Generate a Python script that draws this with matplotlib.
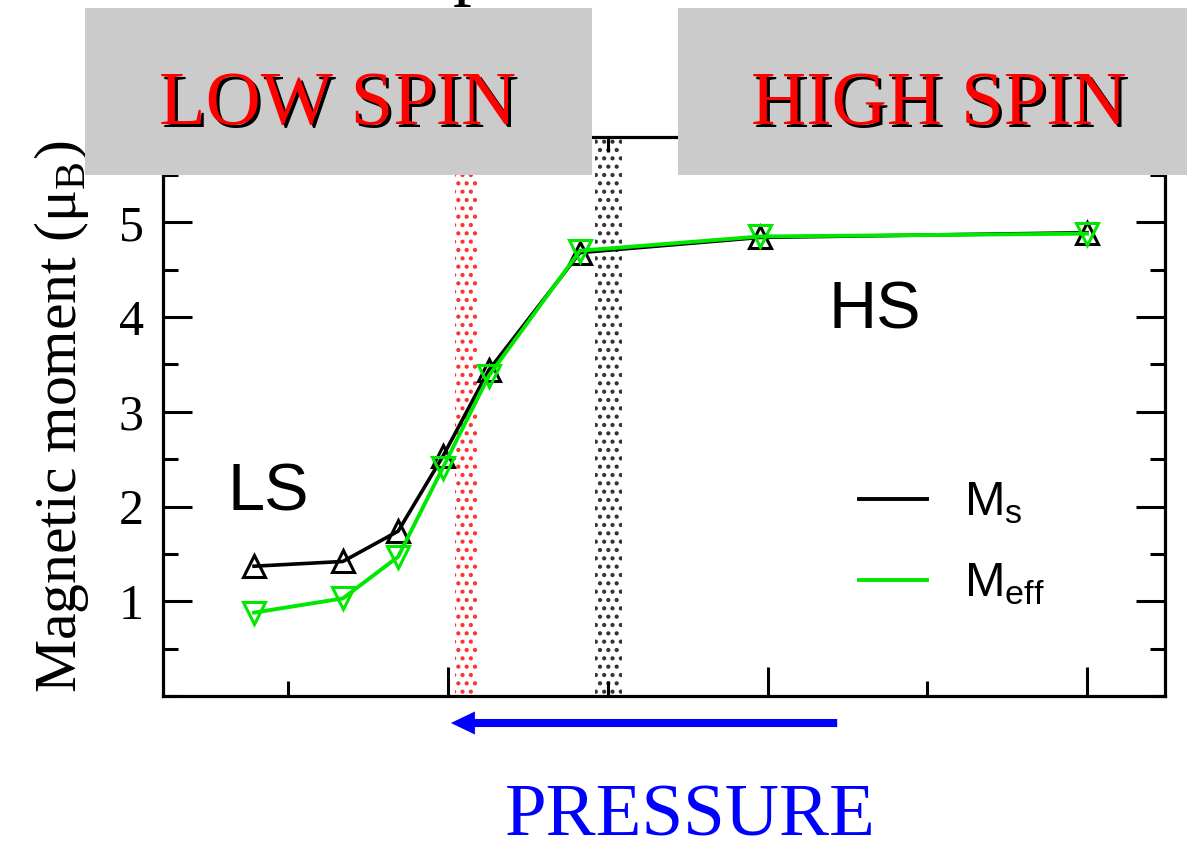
import matplotlib
matplotlib.use("Agg")
import matplotlib.pyplot as plt
from matplotlib.patches import Rectangle
from matplotlib.ticker import MultipleLocator
import matplotlib.transforms as mtransforms

# ---- data (x in arbitrary units: major ticks at 1,2,3) ----
x_vals = [0.393, 0.671, 0.844, 0.984, 1.128, 1.413, 1.977, 3.0]
ms_vals = [1.37, 1.42, 1.74, 2.53, 3.44, 4.68, 4.84, 4.89]
meff_vals = [0.88, 1.03, 1.47, 2.41, 3.38, 4.70, 4.85, 4.88]
series_labels = ["M$_\\mathregular{s}$", "M$_\\mathregular{eff}$"]
yticks = [1, 2, 3, 4, 5]
red_band = (1.022, 1.091)
black_band = (1.46, 1.545)

plt.rcParams['font.family'] = ['Liberation Serif', 'DejaVu Serif']
plt.rcParams['hatch.linewidth'] = 1.8
plt.rcParams['mathtext.fontset'] = 'custom'

W, H = 1187, 843
fig = plt.figure(figsize=(W / 100, H / 100), dpi=100)
ax = fig.add_axes([163 / W, 1 - 696 / H, (1165 - 163) / W, (696 - 137) / H])

ax.set_xlim(0.108, 3.244)
ax.set_ylim(0, 5.90)

# hatched bands
ax.axvspan(*red_band, facecolor='none', edgecolor='#ff3030', hatch='..', lw=0, zorder=1)
ax.axvspan(*black_band, facecolor='none', edgecolor='#333333', hatch='..', lw=0, zorder=1)

ax.plot(x_vals, ms_vals, color='black', lw=2.6, marker='^', ms=16, mfc='none',
        mec='black', mew=2.2, zorder=3, label=series_labels[0])
ax.plot(x_vals, meff_vals, color='#00e800', lw=2.8, marker='v', ms=16, mfc='none',
        mec='#00e800', mew=2.2, zorder=4, label=series_labels[1])

leg = ax.legend(loc='upper left', bbox_to_anchor=(0.695, 0.385), frameon=False,
                prop={'family': 'Liberation Sans', 'size': 35},
                handlelength=1.4, handletextpad=0.75, labelspacing=0.75,
                borderpad=0, borderaxespad=0)
for h in leg.get_lines():
    h.set_marker('')
    h.set_linewidth(2.8)

ax.text(0.311, 1.96, "LS", family='Liberation Sans', fontsize=48, ha='left', va='baseline')
ax.text(2.19, 3.88, "HS", family='Liberation Sans', fontsize=48, ha='left', va='baseline')

# axes styling
for s in ax.spines.values():
    s.set_linewidth(2.3)
ax.xaxis.set_major_locator(MultipleLocator(1))
ax.xaxis.set_minor_locator(MultipleLocator(0.5))
ax.set_yticks(yticks)
ax.yaxis.set_minor_locator(MultipleLocator(0.5))
ax.tick_params(which='both', direction='in', top=True, right=True, width=2.2,
               labelbottom=False)
ax.tick_params(which='major', length=21)
ax.tick_params(which='minor', length=11)
ax.tick_params(axis='y', labelsize=36, pad=14)
ax.set_ylabel("Magnetic moment (μ$_\\mathregular{B}$)", fontsize=43, labelpad=20)

# pressure arrow
ax.annotate('', xy=(1.009, -0.285), xytext=(2.218, -0.285), xycoords='data',
            annotation_clip=False,
            arrowprops=dict(arrowstyle='simple,head_length=1.73,head_width=1.66,tail_width=0.58',
                            mutation_scale=10, fc='#0000ff', ec='none', lw=0,
                            shrinkA=0, shrinkB=0))
fig.text(690 / W, 1 - 835 / H, "PRESSURE", color='#0000ff', fontsize=54,
         ha='center', va='baseline')

# gray boxes with labels
for (x0, x1) in [(85, 592), (678, 1187)]:
    fig.patches.append(Rectangle((x0 / W, 1 - 175 / H), (x1 - x0) / W, (175 - 8) / H,
                                 transform=fig.transFigure, facecolor='#cbcbcb',
                                 edgecolor='none', zorder=5))
shadow = mtransforms.offset_copy(fig.transFigure, fig=fig, x=2.5, y=-2.5, units='dots')
for label, cx in [("LOW SPIN", 338), ("HIGH SPIN", 939)]:
    fig.text(cx / W, 1 - 124 / H, label, color='black', fontsize=55, ha='center',
             va='baseline', transform=shadow, zorder=6)
    fig.text(cx / W, 1 - 124 / H, label, color='#ff0000', fontsize=55, ha='center',
             va='baseline', zorder=7)

# cut-off glyph of a title at the very top
fig.text(453 / W, 1 + 9 / H, "p", color='black', fontsize=54, ha='left', va='baseline')

fig.savefig("out.png", dpi=100)
